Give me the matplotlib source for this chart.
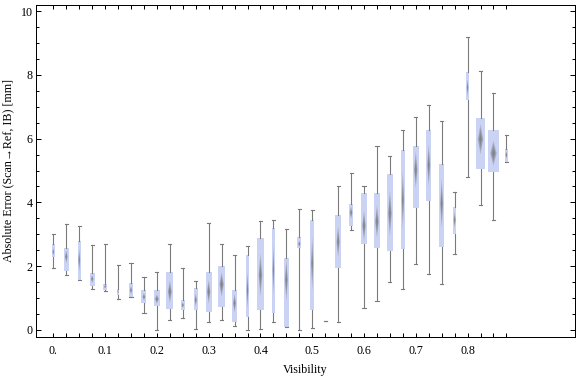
import numpy as np
import matplotlib
matplotlib.use("Agg")
import matplotlib.pyplot as plt

# Data: one box per visibility step of 0.025
visibility = [0.0, 0.025, 0.05, 0.075, 0.1, 0.125, 0.15, 0.175, 0.2, 0.225,
              0.25, 0.275, 0.3, 0.325, 0.35, 0.375, 0.4, 0.425, 0.45, 0.475,
              0.5, 0.525, 0.55, 0.575, 0.6, 0.625, 0.65, 0.675, 0.7, 0.725,
              0.75, 0.775, 0.8, 0.825, 0.85, 0.875]
whis_lo = [1.93, 1.72, 1.57, 1.29, 1.23, 0.97, 1.02, 0.52, 0.00, 0.31,
           0.39, 0.02, 0.24, 0.30, 0.12, 0.00, 0.02, 0.26, 0.08, 0.00,
           0.05, 0.27, 0.24, 3.12, 0.68, 0.90, 1.49, 1.27, 2.06, 1.76,
           1.43, 2.37, 4.79, 3.91, 3.45, 5.26]
q1 = [2.30, 1.86, 1.57, 1.39, 1.25, 1.10, 1.02, 0.86, 0.75, 0.66,
      0.63, 0.63, 0.57, 0.73, 0.26, 0.42, 0.63, 0.54, 0.10, 2.56,
      0.63, 0.27, 1.95, 3.27, 2.70, 2.58, 2.49, 2.55, 3.83, 4.05,
      2.61, 3.01, 7.20, 5.05, 4.96, 5.26]
median = [2.45, 2.30, 2.19, 1.60, 1.36, 1.20, 1.25, 1.04, 0.97, 1.20,
          0.78, 0.94, 1.20, 1.43, 0.84, 1.25, 1.72, 1.88, 1.57, 2.70,
          2.09, 0.27, 2.77, 3.68, 3.27, 3.40, 3.66, 4.08, 5.02, 5.17,
          3.97, 3.45, 7.60, 5.98, 5.54, 5.49]
q3 = [2.70, 2.56, 2.79, 1.80, 1.44, 1.30, 1.48, 1.25, 1.25, 1.83,
      0.94, 1.31, 1.82, 2.01, 1.25, 2.35, 2.88, 3.20, 2.26, 2.91,
      3.45, 0.27, 3.60, 3.95, 4.30, 4.29, 4.89, 5.64, 5.77, 6.27,
      5.20, 3.87, 8.10, 6.64, 6.27, 5.67]
whis_hi = [3.00, 3.31, 3.26, 2.66, 2.69, 2.04, 2.09, 1.65, 1.81, 2.69,
           1.93, 1.54, 3.35, 2.69, 2.34, 2.62, 3.42, 3.44, 3.16, 3.80,
           3.75, 0.27, 4.51, 4.91, 4.51, 5.76, 5.44, 6.26, 6.67, 7.04,
           6.54, 4.32, 9.20, 8.13, 7.42, 6.10]
# relative box width (sample size)
rel_width = [0.23, 0.36, 0.26, 0.36, 0.31, 0.15, 0.31, 0.39, 0.52, 0.52,
             0.33, 0.31, 0.46, 0.59, 0.39, 0.26, 0.49, 0.23, 0.41, 0.31,
             0.33, 0.15, 0.41, 0.36, 0.46, 0.49, 0.49, 0.33, 0.46, 0.41,
             0.41, 0.29, 0.23, 0.72, 0.85, 0.26]
tick_labels = ['0.', '0.1', '0.2', '0.3', '0.4', '0.5', '0.6', '0.7', '0.8']

plt.rcParams['font.family'] = ['Liberation Serif', 'DejaVu Serif']

pos = np.arange(len(visibility))
stats = []
for i in range(len(visibility)):
    stats.append(dict(med=median[i], q1=q1[i], q3=q3[i],
                      whislo=whis_lo[i], whishi=whis_hi[i], fliers=[]))

fig = plt.figure(figsize=(8, 377/72), dpi=72)
ax = fig.add_axes([36/576, 1 - 337/377, 539/576, 332/377])

gray = '#7a7a7a'
ax.bxp(stats, positions=pos, widths=rel_width, capwidths=0.24,
       showfliers=False, patch_artist=True,
       boxprops=dict(facecolor='#cbd3f5', edgecolor='none', linewidth=0),
       whiskerprops=dict(color=gray, linewidth=1.1),
       capprops=dict(color=gray, linewidth=1.1),
       medianprops=dict(linewidth=0))

# soft gray diamonds at the median
for i in range(len(visibility)):
    h = (q3[i] - q1[i]) * 0.6
    w = rel_width[i] * 0.6
    if h <= 0:
        continue
    for s in [1.0, 0.75, 0.5, 0.3]:
        ax.fill([pos[i] - w/2*s, pos[i], pos[i] + w/2*s, pos[i]],
                [median[i], median[i] + h/2*s, median[i], median[i] - h/2*s],
                color='#6e6e6e', alpha=0.32, linewidth=0, zorder=3)

ax.set_xlim(-1.34, 40.3)
ax.set_ylim(-0.22, 10.19)
ax.set_xticks(pos)
ax.set_xticklabels([tick_labels[i // 4] if i % 4 == 0 and i // 4 < len(tick_labels) else ''
                    for i in range(len(pos))])
ax.set_yticks([0, 2, 4, 6, 8, 10])
ax.set_yticks(np.arange(0, 10.01, 0.5), minor=True)
ax.tick_params(axis='both', direction='in', top=True, right=True, labelsize=12,
               width=1, color='black')
ax.tick_params(axis='y', which='major', length=5)
ax.tick_params(axis='y', which='minor', length=3, width=1, direction='in', right=True)
ax.tick_params(axis='x', which='major', length=4, pad=8)
for sp in ax.spines.values():
    sp.set_linewidth(1)
ax.set_xlabel('Visibility', fontsize=12, labelpad=7)
ax.set_ylabel('Absolute Error (Scan\u2192Ref, IB) [mm]', fontsize=12, labelpad=6)

fig.savefig('out.png', dpi=72)
